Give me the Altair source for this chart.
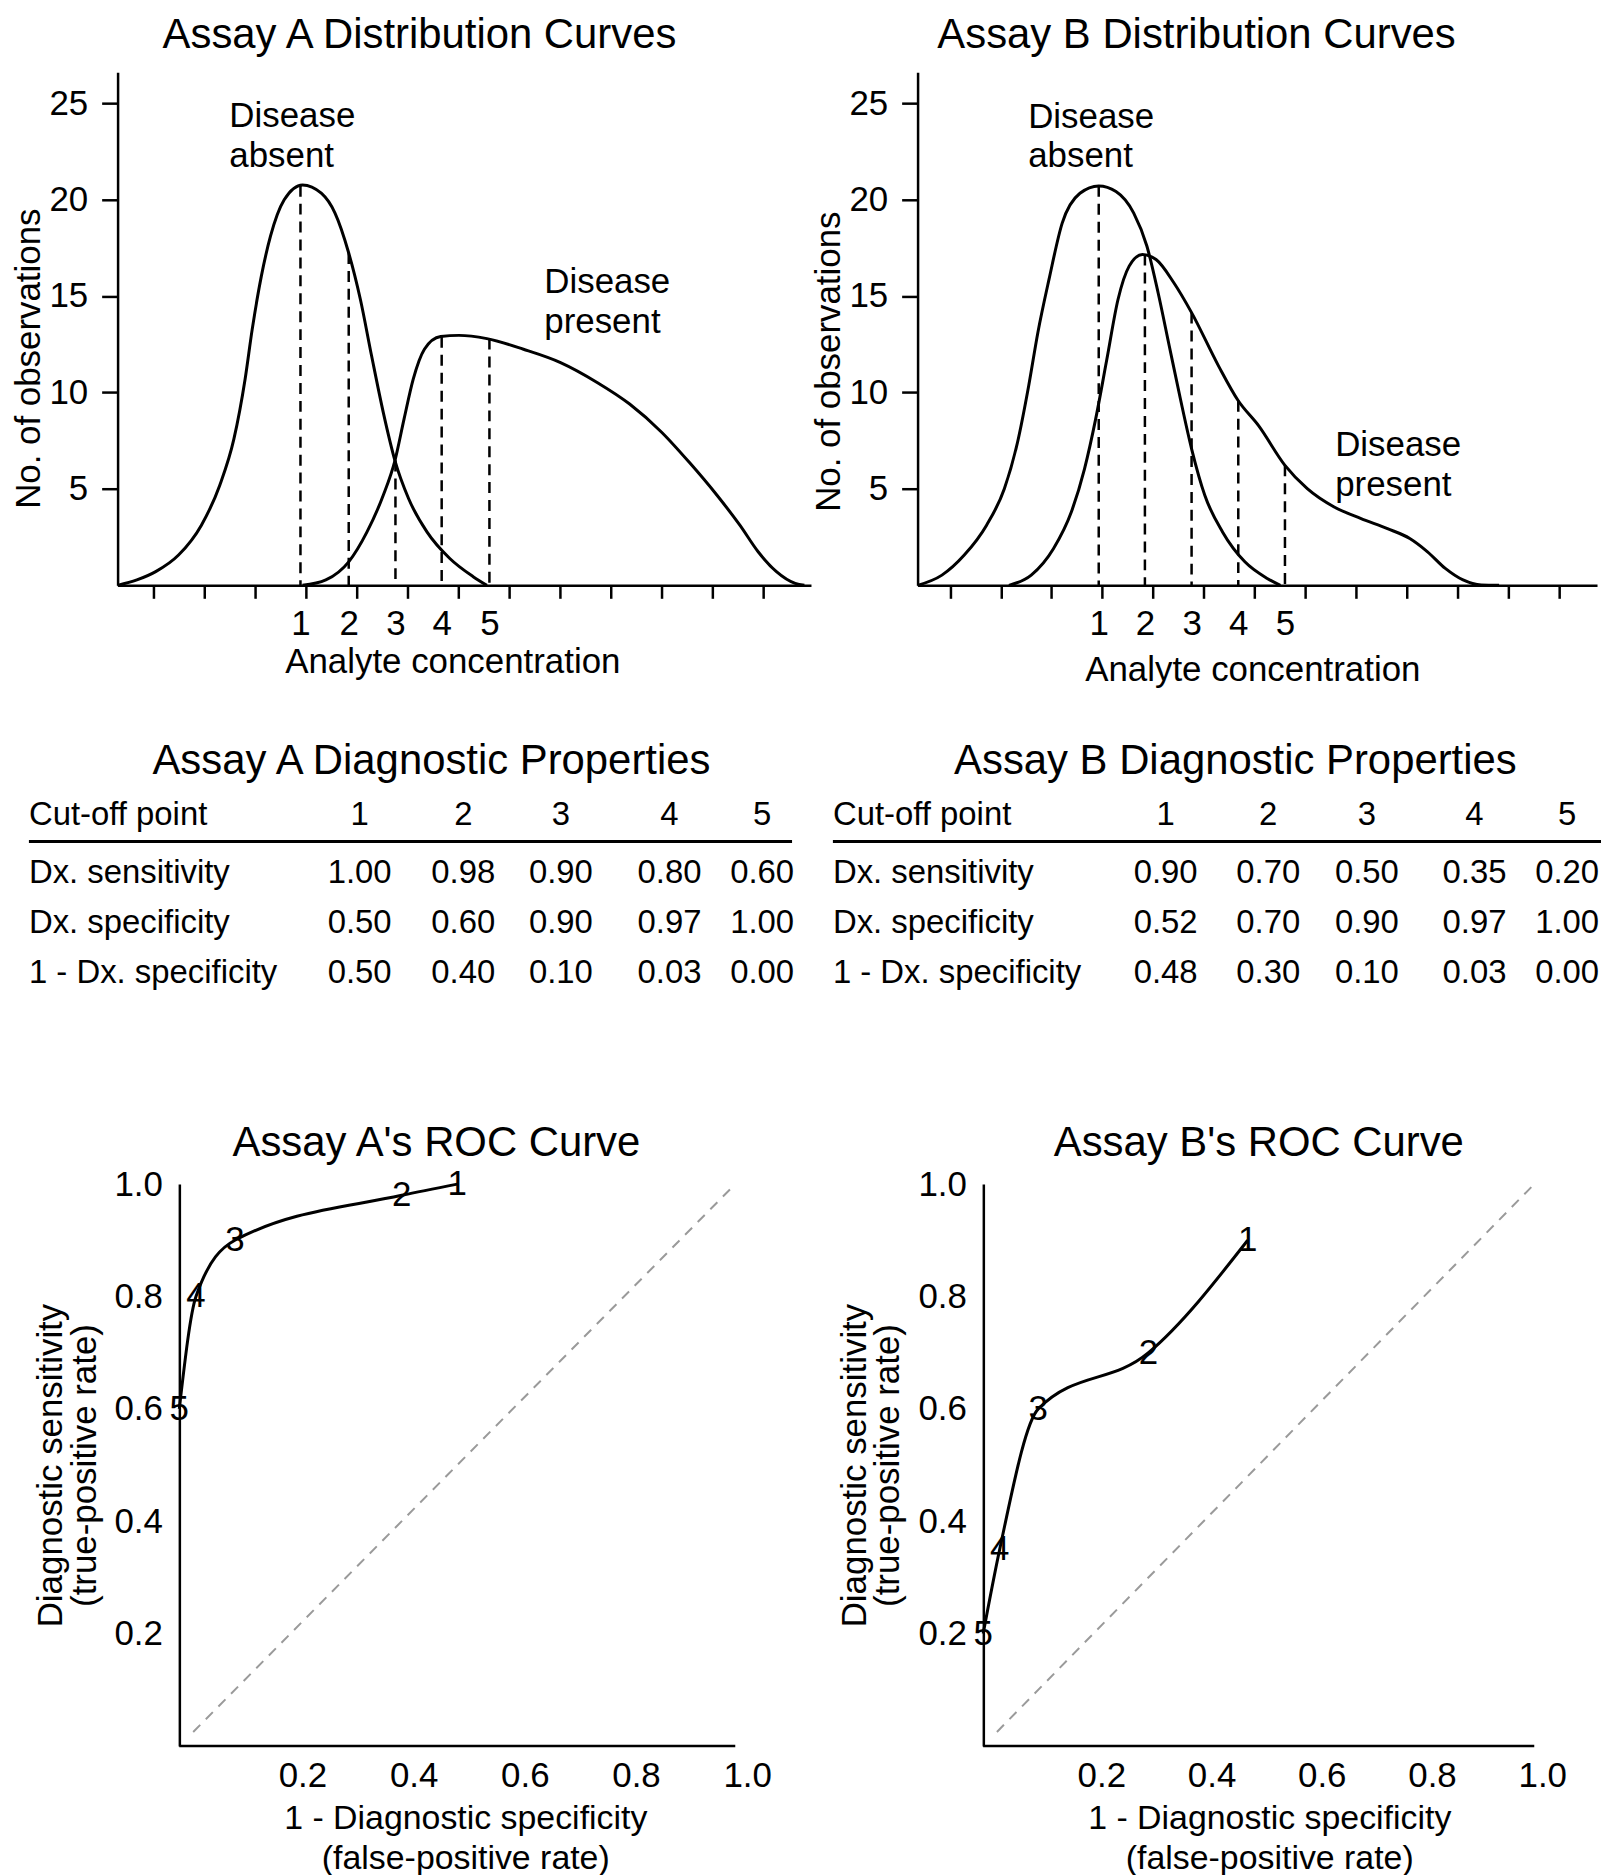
import json
import altair as alt
import pandas as pd

FONT = "Liberation Sans"

# ---------------- Distribution curves (x = position on the analyte axis, in tick units; y = no. of observations)
a_absent_x = [0.30, 0.68, 1.05, 1.50, 1.95, 2.31, 2.59, 2.81, 2.95, 3.13, 3.31, 3.58, 3.94, 4.31, 4.58,
              4.85, 5.08, 5.30, 5.53, 5.76, 6.03, 6.39, 6.84, 7.30, 7.57]
a_absent_y = [0.0, 0.28, 0.71, 1.57, 3.12, 5.18, 7.59, 10.69, 13.27, 16.03, 18.10, 19.99, 20.76, 20.33, 19.30,
              17.23, 14.82, 11.90, 8.97, 6.47, 4.49, 2.77, 1.39, 0.45, 0.0]
a_present_x = [3.94, 4.40, 4.85, 5.21, 5.53, 5.76, 5.94, 6.12, 6.34, 6.66, 7.02, 7.57, 8.29, 9.02, 9.74,
               10.38, 11.01, 11.55, 12.10, 12.55, 12.91, 13.27, 13.64, 13.82]
a_present_y = [0.0, 0.28, 1.22, 2.77, 4.67, 6.47, 8.63, 10.69, 12.24, 12.90, 12.96, 12.79, 12.24, 11.55, 10.52,
               9.40, 7.94, 6.39, 4.67, 3.12, 1.74, 0.71, 0.10, 0.0]

b_absent_x = [0.36, 0.84, 1.28, 1.72, 2.07, 2.33, 2.55, 2.73, 2.95, 3.21, 3.56, 3.93, 4.27, 4.62, 4.88,
              5.10, 5.32, 5.54, 5.76, 6.02, 6.37, 6.81, 7.25, 7.51]
b_absent_y = [0.0, 0.53, 1.57, 3.12, 5.01, 7.42, 10.35, 13.10, 15.86, 18.78, 20.33, 20.71, 20.42, 19.30, 17.58,
              15.17, 12.41, 9.66, 7.08, 4.67, 2.77, 1.22, 0.36, 0.0]
b_present_x = [2.16, 2.60, 3.04, 3.39, 3.65, 3.87, 4.09, 4.31, 4.53, 4.79, 5.06, 5.41, 5.76, 6.29, 6.68,
               7.08, 7.60, 8.04, 8.57, 9.10, 9.62, 10.06, 10.41, 10.76, 11.11, 11.47, 11.82]
b_present_y = [0.0, 0.53, 1.91, 3.80, 6.04, 8.63, 11.72, 14.82, 16.55, 17.15, 16.89, 15.69, 14.14, 11.38, 9.57,
               8.28, 6.22, 5.01, 4.06, 3.46, 2.94, 2.43, 1.74, 0.88, 0.28, 0.02, 0.0]

cut_labels = ["1", "2", "3", "4", "5"]
a_cut_x = [3.90, 4.85, 5.77, 6.68, 7.62]
a_cut_top = [20.72, 17.23, 6.47, 12.88, 12.79]
b_cut_x = [3.93, 4.84, 5.76, 6.68, 7.60]
b_cut_top = [20.71, 17.15, 14.14, 9.57, 6.22]
axis_ticks = list(range(1, 14))
y_ticks = [5, 10, 15, 20, 25]

# ---------------- Diagnostic properties tables
row_labels = ["Cut-off point", "Dx. sensitivity", "Dx. specificity", "1 - Dx. specificity"]
a_sens = [1.00, 0.98, 0.90, 0.80, 0.60]
a_spec = [0.50, 0.60, 0.90, 0.97, 1.00]
a_one_minus_spec = [0.50, 0.40, 0.10, 0.03, 0.00]
b_sens = [0.90, 0.70, 0.50, 0.35, 0.20]
b_spec = [0.52, 0.70, 0.90, 0.97, 1.00]
b_one_minus_spec = [0.48, 0.30, 0.10, 0.03, 0.00]

# ---------------- ROC curves (as plotted)
roc_a_fpr = [0.50, 0.40, 0.10, 0.03, 0.00]
roc_a_tpr = [1.00, 0.98, 0.90, 0.80, 0.60]
roc_b_fpr = [0.48, 0.30, 0.10, 0.03, 0.00]
roc_b_tpr = [0.90, 0.70, 0.60, 0.35, 0.20]
diag_vals = [0.025, 1.0]
roc_ticks = [0.2, 0.4, 0.6, 0.8, 1.0]

TXT = 35


def dist_chart(title, ax, ay, px, py, cut_x, cut_top, x_domain, width, title_dx,
               xt_pad, yt_y, absent_pos, present_pos):
    curves = pd.DataFrame({
        "x": ax + px,
        "y": ay + py,
        "group": ["absent"] * len(ax) + ["present"] * len(px),
    })
    cuts = pd.DataFrame({"x": cut_x, "top": cut_top})
    notes = pd.DataFrame({
        "x": [absent_pos[0], present_pos[0]],
        "y": [absent_pos[1], present_pos[1]],
        "t": ["Disease\nabsent", "Disease\npresent"],
    })
    tick_vals = sorted(axis_ticks + cut_x)
    cx = json.dumps(cut_x)
    label_expr = (f"indexof({cx}, datum.value) >= 0 ? "
                  f"{json.dumps(cut_labels)}[indexof({cx}, datum.value)] : ''")
    xs = alt.Scale(domain=x_domain, nice=False, zero=False)
    ys = alt.Scale(domain=[0, 26.6], nice=False, zero=False)
    xaxis = alt.Axis(values=tick_vals, labelExpr=label_expr, title="Analyte concentration",
                     tickSize=13, tickWidth=2.5,
                     tickOpacity={"condition": {"test": "datum.value % 1 === 0", "value": 1}, "value": 0},
                     labelPadding=8, labelFontSize=TXT, labelOverlap=False, labelFlush=False,
                     titleFontSize=TXT, titlePadding=xt_pad, titleX=336, domainWidth=2.5)
    yaxis = alt.Axis(values=y_ticks, format="d", tickSize=16, tickWidth=2.5, labelPadding=14,
                     labelFontSize=TXT, title="No. of observations", titleFontSize=TXT,
                     titlePadding=2, titleY=yt_y, domainWidth=2.5)
    X = lambda f: alt.X(f, scale=xs, axis=xaxis)
    Y = lambda f: alt.Y(f, scale=ys, axis=yaxis)
    lines = alt.Chart(curves).mark_line(interpolate="monotone", color="black", strokeWidth=3).encode(
        x=X("x:Q"), y=Y("y:Q"), detail="group:N")
    rules = alt.Chart(cuts).mark_rule(color="black", strokeWidth=2.5, strokeDash=[11, 7]).encode(
        x=X("x:Q"), y=Y("top:Q"), y2=alt.Y2Datum(0))
    text = alt.Chart(notes).mark_text(align="left", baseline="middle", lineBreak="\n", font=FONT,
                                      fontSize=TXT, lineHeight=40, color="black").encode(
        x=X("x:Q"), y=Y("y:Q"), text="t:N")
    return alt.layer(lines, rules, text).properties(
        width=width, height=515,
        title=alt.TitleParams(title, font=FONT, fontSize=42, fontWeight="normal", color="black",
                              anchor="middle", dx=title_dx, offset=-5, baseline="middle", frame="group"))


def table_chart(title, sens, spec, oms, xrange, title_dx):
    lab = pd.DataFrame({"col": [0, 0, 0, 0], "row": [1, 3, 4, 5], "t": row_labels})
    recs = []
    for i in range(5):
        recs.append({"col": i + 1, "row": 1, "t": cut_labels[i]})
        recs.append({"col": i + 1, "row": 3, "t": f"{sens[i]:.2f}"})
        recs.append({"col": i + 1, "row": 4, "t": f"{spec[i]:.2f}"})
        recs.append({"col": i + 1, "row": 5, "t": f"{oms[i]:.2f}"})
    vals = pd.DataFrame(recs)
    xs = alt.Scale(domain=[0, 1, 2, 3, 4, 5, 6], range=xrange, nice=False, zero=False)
    ys = alt.Scale(domain=[1, 2, 3, 4, 5], range=[23, 49, 81, 131, 181], nice=False, zero=False)
    left = alt.Chart(lab).mark_text(align="left", baseline="middle", font=FONT, fontSize=33,
                                    color="black").encode(
        x=alt.X("col:Q", scale=xs, axis=None), y=alt.Y("row:Q", scale=ys, axis=None), text="t:N")
    nums = alt.Chart(vals).mark_text(align="center", baseline="middle", font=FONT, fontSize=33,
                                     color="black").encode(
        x=alt.X("col:Q", scale=xs, axis=None), y=alt.Y("row:Q", scale=ys, axis=None), text="t:N")
    rule = alt.Chart(pd.DataFrame({"k": [0]})).mark_rule(color="black", strokeWidth=3).encode(
        x=alt.XDatum(0, scale=xs, axis=None), x2=alt.X2Datum(6),
        y=alt.YDatum(2, scale=ys, axis=None))
    return alt.layer(rule, left, nums).properties(
        width=630, height=185,
        title=alt.TitleParams(title, font=FONT, fontSize=42, fontWeight="normal", color="black",
                              anchor="middle", dx=title_dx, offset=-10, baseline="middle", frame="group"))


def roc_chart(title, fpr, tpr, x_domain, width, y_off, title_dx, xt_x, lab_off):
    pts = pd.DataFrame({"fpr": fpr, "tpr": tpr, "label": cut_labels})
    diag = pd.DataFrame({"fpr": diag_vals, "tpr": diag_vals})
    xs = alt.Scale(domain=x_domain, nice=False, zero=False)
    ys = alt.Scale(domain=[0, 1], nice=False, zero=False)
    xaxis = alt.Axis(values=roc_ticks, format=".1f", ticks=False, tickSize=0, domain=False,
                     labelPadding=13, labelOffset=lab_off, labelFlush=False, labelFontSize=TXT,
                     title=["1 - Diagnostic specificity", "(false-positive rate)"], titleFontSize=34,
                     titlePadding=8, titleX=xt_x, titleLineHeight=40)
    yaxis = alt.Axis(values=roc_ticks, format=".1f", ticks=False, tickSize=0, domainWidth=2.5,
                     offset=-y_off, labelPadding=17, labelFontSize=TXT,
                     title=["Diagnostic sensitivity", "(true-positive rate)"], titleFontSize=TXT,
                     titlePadding=12, titleLineHeight=34)
    X = lambda f: alt.X(f, scale=xs, axis=xaxis)
    Y = lambda f: alt.Y(f, scale=ys, axis=yaxis)
    d = alt.Chart(diag).mark_line(color="#9a9a9a", strokeWidth=2, strokeDash=[10, 8]).encode(
        x=X("fpr:Q"), y=Y("tpr:Q"))
    base = alt.Chart(pd.DataFrame({"k": [0]})).mark_rule(color="black", strokeWidth=2.5).encode(
        x=alt.XDatum(0, scale=xs, axis=xaxis), x2=alt.X2Datum(1), y=alt.YDatum(0, scale=ys, axis=yaxis))
    line = alt.Chart(pts).mark_line(interpolate="monotone", color="black", strokeWidth=3).encode(
        x=X("fpr:Q"), y=Y("tpr:Q"))
    labs = alt.Chart(pts).mark_text(align="center", baseline="middle", font=FONT, fontSize=TXT,
                                    color="black").encode(x=X("fpr:Q"), y=Y("tpr:Q"), text="label:N")
    return alt.layer(d, base, line, labs).properties(
        width=width, height=564,
        title=alt.TitleParams(title, font=FONT, fontSize=42, fontWeight="normal", color="black",
                              anchor="middle", dx=title_dx, offset=-18, baseline="middle", frame="group"))


dA = dist_chart("Assay A Distribution Curves", a_absent_x, a_absent_y, a_present_x, a_present_y,
                a_cut_x, a_cut_top, [0.30, 13.95], 696, -45, 3, 287, (2.50, 24.33), (8.70, 15.7))
dB = dist_chart("Assay B Distribution Curves", b_absent_x, b_absent_y, b_present_x, b_present_y,
                b_cut_x, b_cut_top, [0.36, 13.75], 682, -61, 12, 290, (2.54, 24.3), (8.59, 7.28))
tA = table_chart("Assay A Diagnostic Properties", a_sens, a_spec, a_one_minus_spec,
                 [-89, 243, 347, 445, 554, 647, 677], 0)
tB = table_chart("Assay B Diagnostic Properties", b_sens, b_spec, b_one_minus_spec,
                 [-85, 249, 352, 451, 559, 652, 686], 4)
rA = roc_chart("Assay A's ROC Curve", roc_a_fpr, roc_a_tpr, [-0.111, 1.0], 620, 62, 10, 349, 12)
rB = roc_chart("Assay B's ROC Curve", roc_b_fpr, roc_b_tpr, [-0.119, 1.0], 619, 66, 33, 353, 8)

chart = alt.concat(dA, dB, tA, tB, rA, rB, columns=2,
                   spacing={"row": 208, "column": 107}, bounds="flush", align="each").properties(
    padding={"left": 4, "top": 3, "right": 0, "bottom": 0}
).configure_view(strokeWidth=0).configure_axis(
    grid=False, labelFont=FONT, titleFont=FONT, labelColor="black", titleColor="black",
    domainColor="black", tickColor="black", titleFontWeight="normal"
)

chart.save("out.html", embed_options={"renderer": "svg", "actions": False})
